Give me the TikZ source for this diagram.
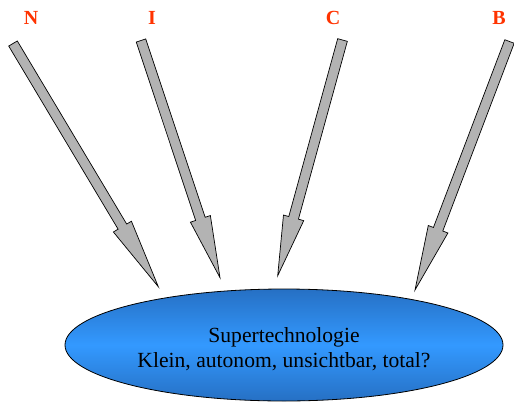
\documentclass[tikz,border=0pt]{standalone}
\usepackage{fontspec}
\setmainfont{Liberation Serif}
\usetikzlibrary{calc,shapes.geometric}
\definecolor{lettercol}{RGB}{255,51,0}
\definecolor{shaftgray}{RGB}{179,179,179}
\definecolor{blueedge}{RGB}{38,112,196}
\definecolor{bluemid}{RGB}{51,153,255}
% Block arrow from tail centre #1 to tip #2 with head length #3
\newcommand\fatarrow[3]{%
  \coordinate (hb) at ($(#2)!#3!(#1)$);
  \filldraw[arrowbody]
    ($(#1)!5pt!90:(#2)$) -- ($(hb)!5pt!-90:(#1)$) -- ($(hb)!10.5pt!-90:(#1)$)
    -- (#2) -- ($(hb)!10.5pt!90:(#1)$) -- ($(hb)!5pt!90:(#1)$)
    -- ($(#1)!5pt!-90:(#2)$) -- cycle;}
\begin{document}
\begin{tikzpicture}[x=1pt,y=-1pt,
  arrowbody/.style={fill=shaftgray,draw=black,line width=0.7pt,line join=miter},
  letter/.style={text=lettercol,font=\fontsize{20}{24}\selectfont\bfseries,inner sep=0pt},
  core/.style={ellipse,draw=black,line width=0.8pt,inner sep=0pt,
    minimum width=438pt,minimum height=112pt,
    top color=blueedge,bottom color=blueedge,middle color=bluemid,shading angle=0},
  coretext/.style={align=center,inner sep=0pt,
    font=\fontsize{21.6}{25}\selectfont}]
\useasboundingbox (0,0) rectangle (514,402);

% central ellipse with its caption
\node[core] (tech) at (284,345) {};
\node[coretext] (caption) at (284,349.5) {Supertechnologie\\Klein, autonom, unsichtbar, total?};

% letters above the arrows
\node[letter] (n) at (31,18) {N};
\node[letter] (i) at (152,18) {I};
\node[letter] (c) at (333,18) {C};
\node[letter] (b) at (499,18) {B};

% arrow tails and tips
\coordinate (nt) at (13,43.5);   \coordinate (np) at (158.3,286.7);
\coordinate (it) at (141,40.5);  \coordinate (ip) at (220,277.7);
\coordinate (ct) at (342.5,40);  \coordinate (cp) at (277.7,275.7);
\coordinate (bt) at (509.5,41.5);\coordinate (bp) at (415,290);

\fatarrow{nt}{np}{70pt}
\fatarrow{it}{ip}{62pt}
\fatarrow{ct}{cp}{60pt}
\fatarrow{bt}{bp}{65pt}
\end{tikzpicture}
\end{document}
